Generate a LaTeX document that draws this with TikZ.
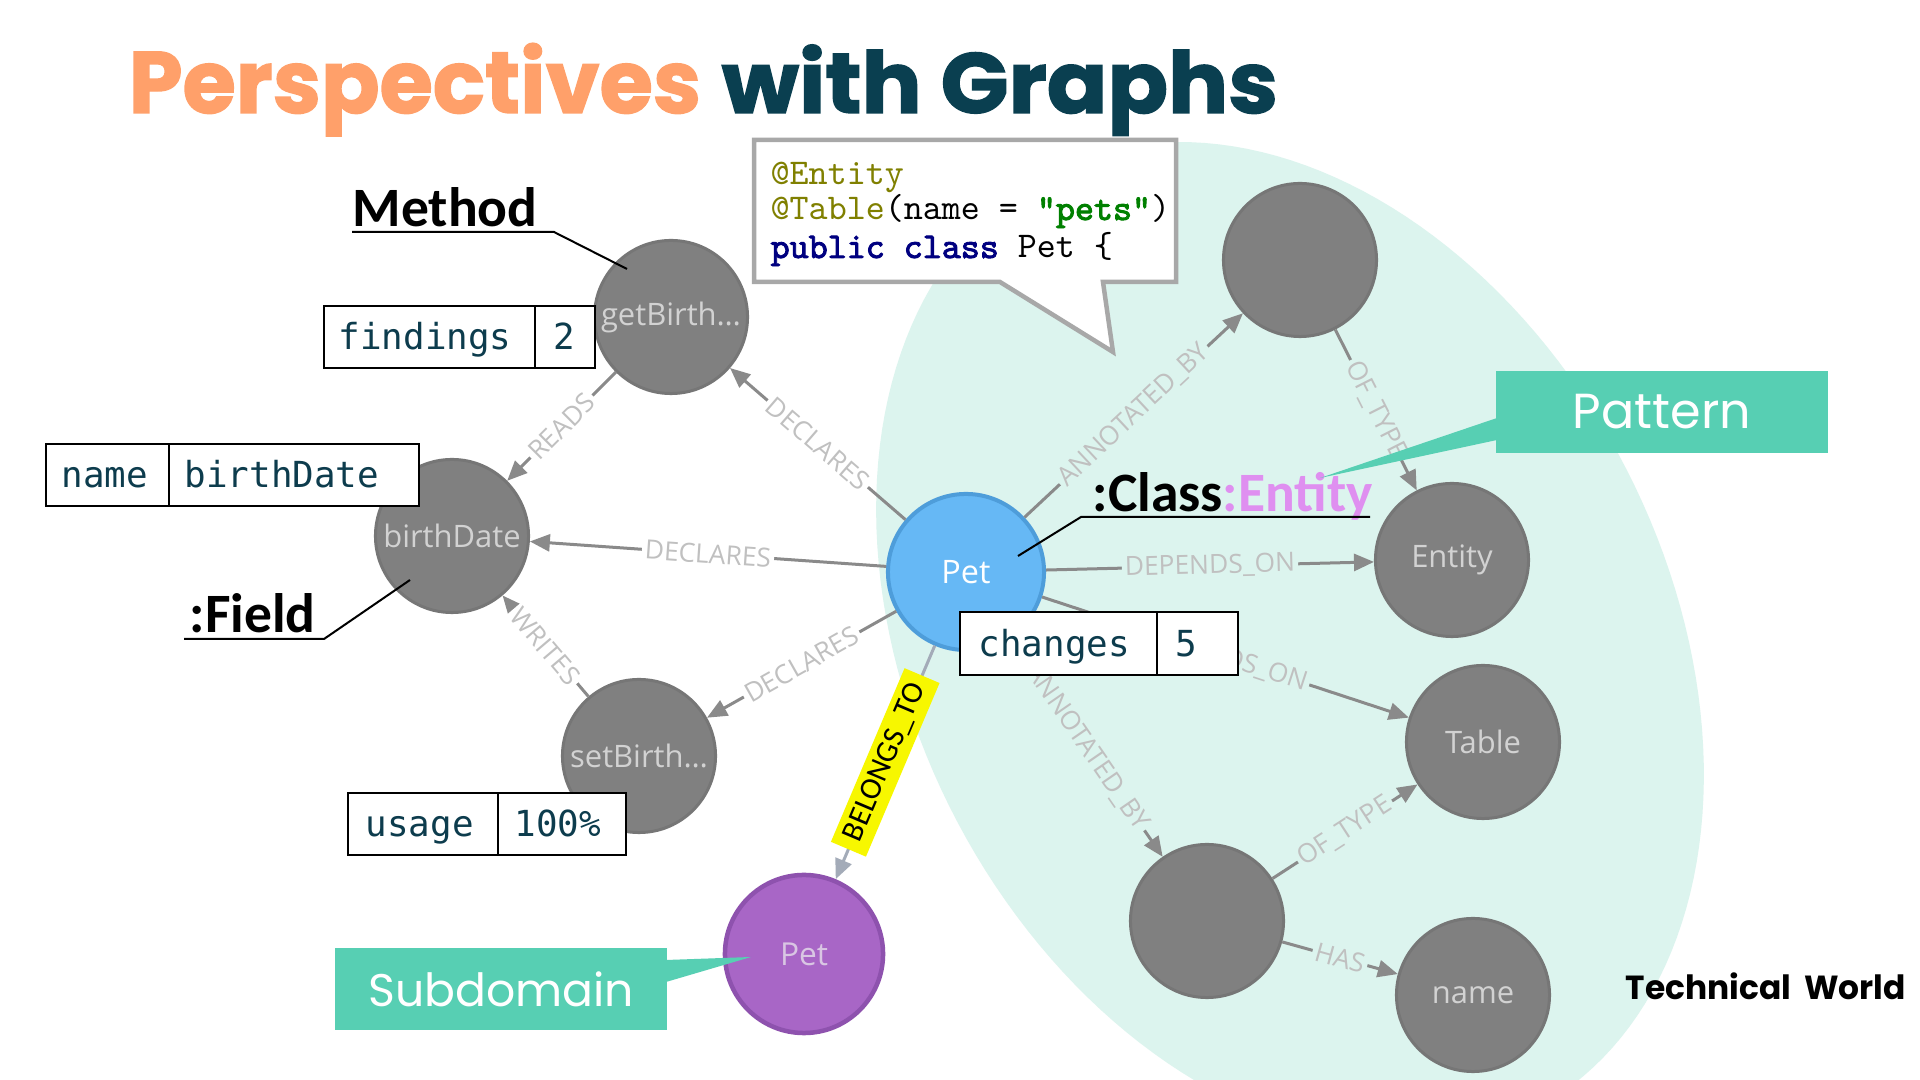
\documentclass[tikz,border=0pt]{standalone}
\usepackage{graphicx}
\usepackage{fontspec}
\setmainfont{Open Sans}
\newfontfamily\poppins{Poppins}
\newfontfamily\poppinsheavy[BoldFeatures={FakeBold=1.6}]{Poppins}
\newfontfamily\carlito{Carlito}
\newfontfamily\dvmono{DejaVu Sans Mono}
\newfontfamily\codereg{lmmono10-regular.otf}
\newfontfamily\codebold[FakeBold=2.5]{lmmono10-regular.otf}
\usetikzlibrary{arrows.meta}
\definecolor{torange}{HTML}{FFA06A}
\definecolor{tdark}{HTML}{0A3F50}
\definecolor{bgteal}{HTML}{DCF4EE}
\definecolor{callteal}{HTML}{57CFB3}
\definecolor{ngray}{HTML}{808080}
\definecolor{ngrayb}{HTML}{767676}
\definecolor{nlabel}{HTML}{D2D2D2}
\definecolor{edgecol}{HTML}{8A8A8A}
\definecolor{elabcol}{HTML}{C0C0C0}
\definecolor{petblue}{HTML}{66B8F5}
\definecolor{petblueb}{HTML}{4E9DDA}
\definecolor{petpur}{HTML}{A866C6}
\definecolor{petpurb}{HTML}{8E52AE}
\definecolor{petpurlab}{HTML}{D9C6E3}
\definecolor{propcol}{HTML}{0D3C4D}
\definecolor{entcol}{HTML}{DF8FF0}
\definecolor{codebox}{HTML}{A8A8A8}
\definecolor{codeolive}{HTML}{808000}
\definecolor{codegreen}{HTML}{008000}
\definecolor{codenavy}{HTML}{000080}
\definecolor{belcol}{HTML}{A3ABB8}
\definecolor{hlyellow}{HTML}{F7F700}
\begin{document}
\begin{tikzpicture}[x=0.01cm,y=-0.01cm,
 gnode/.style={circle, fill=ngray, draw=ngrayb, line width=0.03cm, minimum size=1.53cm, inner sep=0, text=nlabel, font=\fontsize{8.8}{10}\selectfont},
 edge/.style={draw=edgecol, line width=0.03cm, -{Triangle[length=0.2cm,width=0.17cm]}},
 elabel/.style={sloped, font=\fontsize{7.5}{8}\selectfont, text=elabcol, inner sep=0.03cm},
 onwhite/.style={fill=white},
 onteal/.style={fill=bgteal},
 propbox/.style={draw=black, line width=0.02cm, fill=white},
 proptext/.style={anchor=base west, inner sep=0, text=propcol, font=\dvmono\fontsize{10.2}{12}\selectfont},
 biglabel/.style={anchor=base west, inner sep=0, font=\carlito\bfseries\fontsize{15.8}{18}\selectfont},
 leader/.style={draw=black, line width=0.02cm},
 calltext/.style={fill=callteal, text=white, inner sep=0, minimum width=3.32cm, minimum height=0.82cm, font=\poppins\fontsize{14}{16}\selectfont},
 codetext/.style={anchor=base west, inner sep=0, font=\codereg\fontsize{10.3}{12}\selectfont}
]
\useasboundingbox (0,0) rectangle (1920,1080);
\clip (0,0) rectangle (1920,1080);
\fill[white] (0,0) rectangle (1920,1080);
% pattern region
\fill[bgteal] plot[domain=0:360, samples=180, variable=\t] ({1290+399*cos(\t)+110*sin(\t)},{642+500*sin(\t)}) -- cycle;
% title
\node[anchor=base west, inner sep=0, text=torange] (title1) at (128,113) {\resizebox*{5.72cm}{0.93cm}{\poppinsheavy\bfseries Perspectives}};
\node[anchor=base west, inner sep=0, text=tdark] (title2) at (721,113) {\resizebox*{5.56cm}{0.91cm}{\poppinsheavy\bfseries with Graphs}};
% code callout
\draw[codebox, line width=0.045cm, fill=white, line join=miter] (754,140) -- (1176,140) -- (1176,282) -- (1103,282) -- (1113,352) -- (1000,282) -- (754,282) -- cycle;
\node[codetext, text=codeolive] (code1) at (770,185) {@Entity};
\node[codetext] (code2) at (770,220) {\textcolor{codeolive}{@Table}(name = \textcolor{codegreen}{\codebold"pets"})};
\node[codetext] (code3) at (770,258) {\textcolor{codenavy}{\codebold public class} Pet \{};
% graph nodes
\node[gnode] (getb) at (671,317) {getBirth…};
\node[gnode] (bdate) at (452,536) {birthDate};
\node[gnode] (setb) at (639,756) {setBirth…};
\node[gnode] (ann1) at (1300,260) {};
\node[gnode] (entity) at (1452,560) {Entity};
\node[gnode] (table) at (1483,742) {Table};
\node[gnode] (ann2) at (1207,921) {};
\node[gnode] (nameN) at (1473,995) {name};
\node[circle, fill=petblue, draw=petblueb, line width=0.04cm, minimum size=1.56cm, inner sep=0, text=white, font=\fontsize{9.2}{10}\selectfont] (pet) at (966,572) {Pet};
\node[circle, fill=petpur, draw=petpurb, line width=0.045cm, minimum size=1.58cm, inner sep=0, text=petpurlab, font=\fontsize{9}{10}\selectfont] (petsub) at (804,954) {Pet};
% edges
\draw[edge] (pet) -- node[elabel,onwhite]{DECLARES} (getb);
\draw[edge] (pet) -- node[elabel,onwhite]{DECLARES} (bdate);
\draw[edge] (pet) -- node[elabel,onwhite]{DECLARES} (setb);
\draw[edge] (getb) -- node[elabel,onwhite]{READS} (bdate);
\draw[edge] (setb) -- node[elabel,onwhite]{WRITES} (bdate);
\draw[edge] (pet) -- node[elabel,onteal]{ANNOTATED\_BY} (ann1);
\draw[edge] (ann1) -- node[elabel,onteal]{OF\_TYPE} (entity);
\draw[edge] (pet) -- node[elabel,onteal]{DEPENDS\_ON} (entity);
\draw[edge] (pet) -- node[elabel,onteal]{DEPENDS\_ON} (table);
\draw[edge] (pet) -- node[elabel,onteal]{ANNOTATED\_BY} (ann2);
\draw[edge] (ann2) -- node[elabel,onteal]{OF\_TYPE} (table);
\draw[edge] (ann2) -- node[elabel,onteal]{HAS} (nameN);
\draw[edge, draw=belcol] (pet) -- node[sloped, fill=hlyellow, text=black, inner xsep=0.1cm, inner ysep=0, minimum height=0.38cm, font=\carlito\fontsize{8.8}{10}\selectfont]{BELONGS\_TO} (petsub);
% property boxes
\draw[propbox] (324,306) rectangle (595,368) (535,306) -- (535,368);
\node[proptext] (pf1) at (338,350) {findings};
\node[proptext] (pf2) at (553,350) {2};
\draw[propbox] (46,444) rectangle (419,506) (169,444) -- (169,506);
\node[proptext] (pn1) at (61,488) {name};
\node[proptext] (pn2) at (184,488) {birthDate};
\draw[propbox] (348,793) rectangle (626,855) (498,793) -- (498,855);
\node[proptext] (pu1) at (365,837) {usage};
\node[proptext] (pu2) at (514,837) {100\%};
\draw[propbox] (960,612) rectangle (1238,675) (1157,612) -- (1157,675);
\node[proptext] (pc1) at (978,657) {changes};
\node[proptext] (pc2) at (1175,657) {5};
% type labels
\node[biglabel] (lmethod) at (352,227) {Method};
\draw[leader] (352,232) -- (554,232) -- (627,269);
\node[biglabel] (lfield) at (189,633) {:Field};
\draw[leader] (184,639) -- (324,639) -- (410,580);
\node[biglabel] (lclass) at (1092,512) {:Class\textcolor{entcol}{:Entity}};
\draw[leader] (1370,517) -- (1081,517) -- (1018,556);
% callouts
\node[calltext] (pattern) at (1662,412) {Pattern};
\fill[callteal] (1497,418) -- (1320,478) -- (1497,440) -- cycle;
\node[calltext, font=\poppins\fontsize{13}{15}\selectfont] (subdom) at (501,989) {Subdomain};
\fill[callteal] (666,960) -- (751,957) -- (666,982) -- cycle;
% world label
\node[anchor=base west, inner sep=0] (techw) at (1625,1000) {\resizebox*{2.8cm}{0.27cm}{\poppins\bfseries Technical\hspace{0.4em}World}};
\end{tikzpicture}
\end{document}
